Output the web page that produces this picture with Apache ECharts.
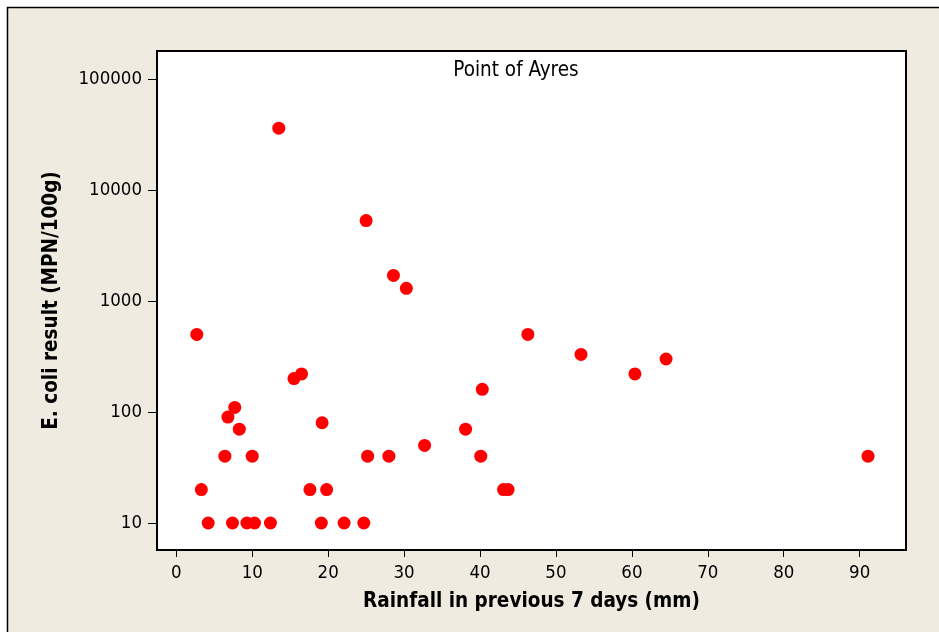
<!DOCTYPE html>
<html>
<head>
<meta charset="utf-8">
<script src="https://cdn.jsdelivr.net/npm/echarts@6/dist/echarts.min.js"></script>
<style>
html,body{margin:0;padding:0;background:#ffffff;}
#chart{width:939px;height:632px;}
</style>
</head>
<body>
<div id="chart"></div>
<script>
const rainfall = [2.7, 3.3, 4.2, 7.4, 9.3, 10.3, 12.4, 6.4, 10.0, 6.8, 7.7, 8.3, 15.5, 16.5, 19.2, 17.6, 19.8, 19.1, 22.1, 24.7, 25.2, 28.0, 32.7,
  13.5, 25.0, 28.6, 30.3,
  46.3, 53.3, 60.4, 64.5, 40.3, 38.1, 40.1, 43.1, 43.7, 91.1];
const ecoli = [500, 20, 10, 10, 10, 10, 10, 40, 40, 90, 110, 70, 200, 220, 80, 20, 20, 10, 10, 10, 40, 40, 50,
  36000, 5300, 1700, 1300,
  500, 330, 220, 300, 160, 70, 40, 20, 20, 40];
const xTicks = [0, 10, 20, 30, 40, 50, 60, 70, 80, 90];
const yTicks = [10, 100, 1000, 10000, 100000];
const titleText = 'Point of Ayres';
const xTitle = 'Rainfall in previous 7 days (mm)';
const yTitle = 'E. coli result (MPN/100g)';

const points = rainfall.map((r, i) => [r, ecoli[i]]);
const FONT = 'DejaVu Sans Condensed';

const chart = echarts.init(document.getElementById('chart'), null, {renderer: 'canvas'});
chart.setOption({
  backgroundColor: '#ffffff',
  animation: false,
  graphic: [{
    type: 'rect',
    z: -10,
    silent: true,
    shape: {x: 7.5, y: 7.5, width: 940, height: 630},
    style: {fill: '#efebe0', stroke: '#000000', lineWidth: 1.5}
  }],
  title: {
    text: titleText,
    left: 511,
    top: 55,
    textAlign: 'center',
    textStyle: {fontFamily: FONT, fontSize: 20.5, fontWeight: 'normal', color: '#000'}
  },
  grid: {
    left: 157, top: 51, right: 33, bottom: 82,
    show: true, backgroundColor: '#ffffff', borderColor: '#000000', borderWidth: 2
  },
  xAxis: {
    type: 'value',
    min: -2.54, max: 96.1,
    name: xTitle,
    nameLocation: 'middle',
    nameGap: 41,
    nameTextStyle: {fontFamily: FONT, fontSize: 20.5, fontWeight: 'bold', color: '#000'},
    axisLine: {show: false, onZero: false},
    axisTick: {show: true, length: 7, lineStyle: {color: '#000', width: 1}, customValues: xTicks},
    axisLabel: {fontFamily: FONT, fontSize: 18.5, color: '#000', margin: 14, customValues: xTicks, formatter: v => String(v)},
    splitLine: {show: false}
  },
  yAxis: {
    type: 'log',
    logBase: 10,
    min: 5.71, max: 178600,
    name: yTitle,
    nameLocation: 'middle',
    nameGap: 95,
    nameRotate: 90,
    nameTextStyle: {fontFamily: FONT, fontSize: 20.5, fontWeight: 'bold', color: '#000'},
    axisLine: {show: false, onZero: false},
    axisTick: {show: true, length: 9, lineStyle: {color: '#000', width: 1}, customValues: yTicks},
    axisLabel: {fontFamily: FONT, fontSize: 18.5, color: '#000', margin: 15, customValues: yTicks, formatter: v => String(Math.round(v))},
    splitLine: {show: false}
  },
  series: [{
    type: 'scatter',
    data: points,
    symbol: 'circle',
    symbolSize: 13,
    itemStyle: {color: '#ff0000', opacity: 1}
  }]
});
</script>
</body>
</html>
